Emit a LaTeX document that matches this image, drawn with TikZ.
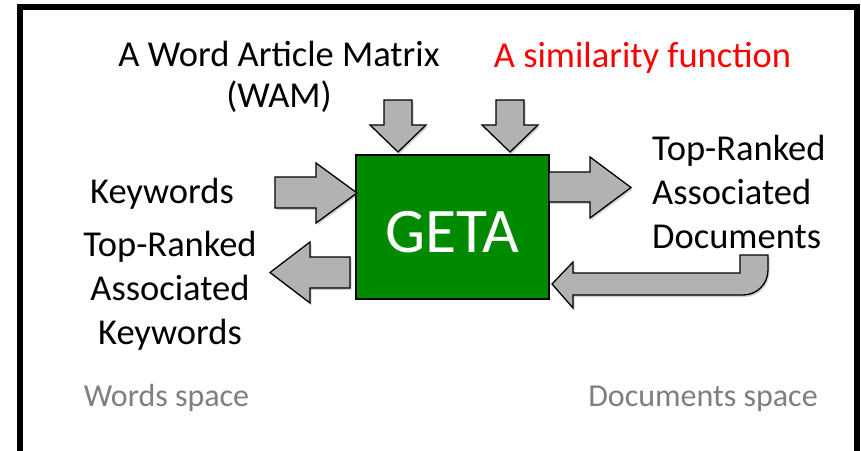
\documentclass[tikz,border=0pt]{standalone}
\usepackage{fontspec}
\setmainfont{Carlito}
\usetikzlibrary{shadows}
\definecolor{arrowgray}{RGB}{178,178,178}
\definecolor{getagreen}{RGB}{0,138,0}
\definecolor{spacegray}{RGB}{127,127,127}
\tikzset{
  blockarrow/.style={fill=arrowgray, draw=black, line width=1.3pt, line join=miter,
    drop shadow={shadow xshift=1.5pt, shadow yshift=-2pt, opacity=0.3, fill=black!60}},
  caption/.style={font=\fontsize{36.5}{44}\selectfont, inner sep=0pt, anchor=base},
  spacelabel/.style={font=\fontsize{32}{38}\selectfont, text=spacegray, inner sep=0pt, anchor=base},
}
\begin{document}
\begin{tikzpicture}[x=1pt,y=-1pt]
\clip (0,0) rectangle (861,450);
\fill[white] (0,0) rectangle (861,450);
% outer frame, open at the bottom edge
\draw[line width=6pt] (20,480) -- (20,7) -- (857,7) -- (857,480);

% central engine
\node[fill=getagreen, draw=black, line width=1.5pt, minimum width=193pt,
      minimum height=144pt, inner sep=0pt] (geta) at (452.5,227) {};
\node[font=\fontsize{63.5}{72}\selectfont, text=white, inner sep=0pt] (getatext)
      at ([yshift=-5pt]geta.center) {GETA};

% inputs from above
\draw[blockarrow] (384,100) -- (412,100) -- (412,125) -- (426,125) -- (398,152)
  -- (370,125) -- (384,125) -- cycle;
\draw[blockarrow] (496,100) -- (524,100) -- (524,125) -- (538,125) -- (510,152)
  -- (482,125) -- (496,125) -- cycle;

% keywords in
\draw[blockarrow] (275,177) -- (316,177) -- (316,163) -- (357,193) -- (316,223)
  -- (316,208) -- (275,208) -- cycle;
% documents out
\draw[blockarrow] (549,172) -- (590,172) -- (590,157) -- (631,187.5) -- (590,218)
  -- (590,202) -- (549,202) -- cycle;
% keywords out
\draw[blockarrow] (350,257) -- (310,257) -- (310,242) -- (270,272.5) -- (310,303)
  -- (310,288) -- (350,288) -- cycle;
% documents fed back
\draw[blockarrow] (740,255) -- (768,255) -- (768,270)
  .. controls (768,284) and (757,295) .. (743,295) -- (573,295) -- (573,308)
  -- (552,284) -- (573,262) -- (573,273) -- (740,273) -- cycle;

% labels (base anchor sits on the last line of a multi-line node)
\node[caption, align=center, font=\fontsize{36.5}{41}\selectfont] (wam) at (279,107)
      {A Word Article Matrix\\(WAM)};
\node[caption, text=red] (sim) at (642.5,67) {A similarity function};
\node[caption] (kw) at (162,203) {Keywords};
\node[caption, align=center] (tkw) at (170,344) {Top-Ranked\\Associated\\Keywords};
\node[caption, align=left, anchor=base west] (tdoc) at (652,248) {Top-Ranked\\Associated\\Documents};
\node[spacelabel] (ws) at (166.5,406) {Words space};
\node[spacelabel] (ds) at (703,406) {Documents space};
\end{tikzpicture}
\end{document}
